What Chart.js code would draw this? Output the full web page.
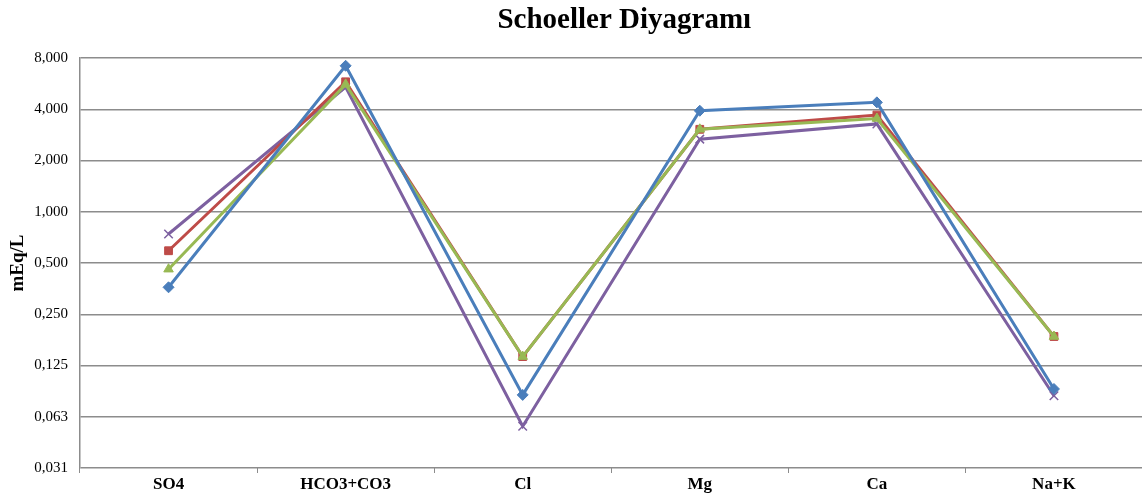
<!DOCTYPE html>
<html>
<head>
<meta charset="utf-8">
<script src="https://cdn.jsdelivr.net/npm/chart.js@4/dist/chart.umd.min.js"></script>
<style>
  html, body { margin: 0; padding: 0; background: #fff; overflow: hidden; }
  #wrap { width: 1150px; height: 501px; }
</style>
</head>
<body>
<div id="wrap"><canvas id="schoeller"></canvas></div>
<script>
// categories (ions) along the x axis
const categories = ["SO4", "HCO3+CO3", "Cl", "Mg", "Ca", "Na+K"];

// meq/L values, one array per sample
const sampleBlue = [0.36, 7.2, 0.084, 3.92, 4.39, 0.091];
const sampleRed = [0.59, 5.8, 0.141, 3.05, 3.7, 0.185];
const sampleGreen = [0.46, 5.6, 0.141, 3.05, 3.53, 0.185];
const samplePurple = [0.74, 5.4, 0.055, 2.67, 3.28, 0.083];

// y ticks are powers of two, labelled with a decimal comma
const tickValues = [0.03125, 0.0625, 0.125, 0.25, 0.5, 1, 2, 4, 8];
const tickLabels = ["0,031", "0,063", "0,125", "0,250", "0,500", "1,000", "2,000", "4,000", "8,000"];

const chartTitle = "Schoeller Diyagramı";
const serif = "'Liberation Serif', 'Times New Roman', serif";

function series(label, data, color, style, order) {
  return {
    label: label,
    data: data,
    borderColor: color,
    backgroundColor: color,
    borderWidth: 3,
    pointStyle: style,
    pointRadius: style === "crossRot" ? 6 : 5.5,
    pointBorderWidth: style === "crossRot" ? 1.5 : 1,
    pointBorderColor: color,
    pointBackgroundColor: color,
    tension: 0,
    fill: false,
    order: order,
  };
}

// title drawn over the plot area (built-in title centres on the whole canvas)
const plotTitle = {
  id: "plotTitle",
  afterDraw(chart) {
    const c = chart.ctx;
    const area = chart.chartArea;
    c.save();
    c.fillStyle = "#000";
    c.font = "bold 29px " + serif;
    c.textAlign = "center";
    c.textBaseline = "alphabetic";
    c.fillText(chartTitle, (area.left + area.right) / 2 + 13, 28);
    c.restore();
  },
};

const ctx = document.getElementById("schoeller");
new Chart(ctx, {
  type: "line",
  data: {
    labels: categories,
    datasets: [
      series("Numune 1", sampleBlue, "#4a7ebb", "rectRot", 1),
      series("Numune 2", sampleRed, "#be4b48", "rect", 3),
      series("Numune 3", sampleGreen, "#98b954", "triangle", 2),
      series("Numune 4", samplePurple, "#7d60a0", "crossRot", 4),
    ],
  },
  plugins: [plotTitle],
  options: {
    responsive: true,
    maintainAspectRatio: false,
    animation: false,
    layout: { padding: { left: 0, right: 0, top: 58, bottom: 0 } },
    plugins: {
      legend: { display: false },
      tooltip: { enabled: false },
      title: { display: false },
    },
    scales: {
      x: {
        offset: true,
        grid: {
          offset: true,
          drawOnChartArea: false,
          tickLength: 5,
          color: "#8c8c8c",
        },
        border: { display: false },
        ticks: {
          color: "#000",
          padding: 1,
          maxRotation: 0,
          font: { family: serif, size: 17, weight: "bold" },
        },
        afterFit: function (scale) {
          scale.height = 33;
        },
      },
      y: {
        type: "logarithmic",
        min: tickValues[0],
        max: tickValues[tickValues.length - 1],
        grid: { color: "#8c8c8c", lineWidth: 1.5, drawTicks: false },
        border: { display: true, color: "#8c8c8c", width: 1.5 },
        afterBuildTicks: function (scale) {
          scale.ticks = tickValues.map((v) => ({ value: v }));
        },
        ticks: {
          color: "#000",
          padding: 12,
          font: { family: serif, size: 15 },
          callback: function (value) {
            const i = tickValues.indexOf(value);
            return i >= 0 ? tickLabels[i] : "";
          },
        },
        title: {
          display: true,
          text: "mEq/L",
          color: "#000",
          padding: { top: 7, bottom: 0 },
          font: { family: serif, size: 19, weight: "bold" },
        },
        afterFit: function (scale) {
          scale.width = 80;
        },
      },
    },
  },
});
</script>
</body>
</html>
